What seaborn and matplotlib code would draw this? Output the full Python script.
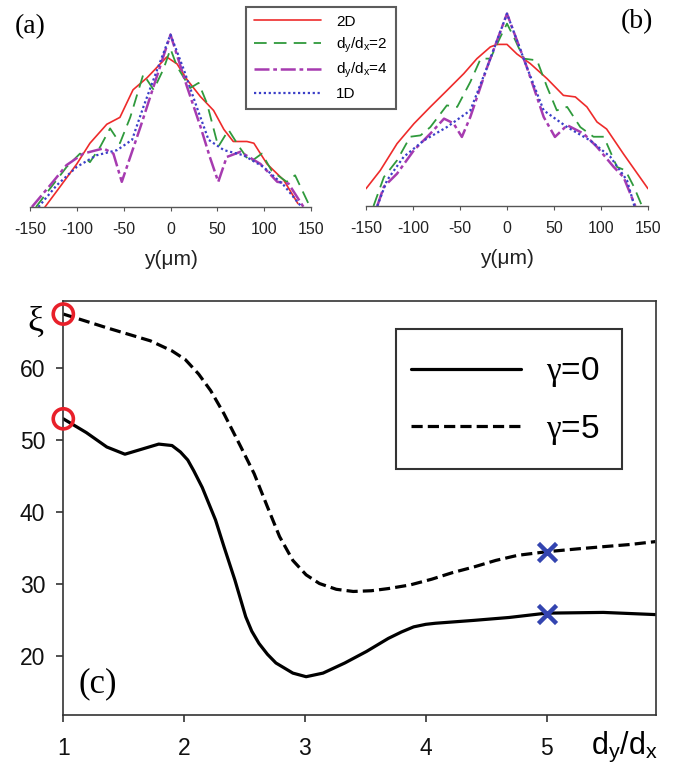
import numpy as np
import pandas as pd
import matplotlib
matplotlib.use("Agg")
import matplotlib.pyplot as plt
from matplotlib.patches import Rectangle
import seaborn as sns

sns.set_theme(style="white")
plt.rcParams['font.family'] = ['Liberation Sans', 'DejaVu Sans']
plt.rcParams['mathtext.fontset'] = 'custom'
plt.rcParams['mathtext.rm'] = 'Liberation Serif'
plt.rcParams['mathtext.it'] = 'Liberation Serif:italic'
plt.rcParams['mathtext.sf'] = 'Liberation Sans'
plt.rcParams['text.color'] = 'black'

# ---------------- panel (a) data ----------------
a_2d_x = [-134, -118, -100, -86, -68, -54, -40, -25, -11, -4, 7, 17.5, 32, 46, 57, 67, 81.6, 89, 103, 121, 136]
a_2d_y = [0, 0.117, 0.25, 0.37, 0.48, 0.52, 0.68, 0.75, 0.83, 0.87, 0.83, 0.74, 0.64, 0.56, 0.45, 0.38, 0.38, 0.37, 0.25, 0.155, 0.02]
a_d2_x = [-143.6, -128.6, -110.8, -96.6, -86, -75, -64.5, -54, -43, -29, -18, -7.5, 0, 7, 21, 30, 39, 51, 62, 74.5, 85, 97.6, 108, 124, 133, 149]
a_d2_y = [0, 0.107, 0.233, 0.31, 0.26, 0.35, 0.456, 0.37, 0.52, 0.77, 0.68, 0.80, 0.917, 0.815, 0.69, 0.72, 0.60, 0.35, 0.447, 0.34, 0.26, 0.31, 0.21, 0.146, 0.184, 0]
a_d4_x = [-148, -127, -111, -93, -71.6, -61, -52, -43, -32, -18, 0, 17.5, 32, 42, 51, 60, 74.5, 96, 114, 126, 142]
a_d4_y = [0, 0.136, 0.243, 0.31, 0.34, 0.31, 0.146, 0.29, 0.466, 0.70, 1.0, 0.70, 0.466, 0.29, 0.146, 0.29, 0.32, 0.25, 0.146, 0.136, 0]
a_1d_x = [-141, -121.5, -100, -79, -57, -41, -29, -14, 0, 14, 28, 40.6, 57, 78, 99, 121, 140]
a_1d_y = [0, 0.126, 0.233, 0.30, 0.33, 0.39, 0.58, 0.80, 1.0, 0.80, 0.58, 0.39, 0.33, 0.30, 0.233, 0.126, 0]

# ---------------- panel (b) data ----------------
b_2d_x = [-150, -134.8, -117, -99, -81.6, -64, -46, -32, -17.7, -10.6, 0, 10.6, 24.8, 42.6, 60, 72.7, 85, 95.7, 106, 124, 150]
b_2d_y = [0.09, 0.185, 0.324, 0.428, 0.515, 0.60, 0.688, 0.766, 0.827, 0.84, 0.84, 0.79, 0.74, 0.662, 0.575, 0.567, 0.515, 0.437, 0.40, 0.27, 0.09]
b_d2_x = [-142, -131, -117, -103, -92, -81.6, -64, -53, -39, -28, -17.7, -7, 0, 9, 17.7, 32, 42.5, 53, 64, 78, 92, 103, 117, 126, 135, 143.6]
b_d2_y = [0, 0.15, 0.237, 0.36, 0.367, 0.41, 0.523, 0.515, 0.645, 0.766, 0.766, 0.879, 0.948, 0.86, 0.766, 0.757, 0.62, 0.497, 0.515, 0.41, 0.36, 0.36, 0.203, 0.185, 0.1, 0]
b_d4_x = [-138, -131, -117, -99, -81.6, -67, -57, -48, -39, -21, 0, 21, 39, 51, 64, 81.6, 95.7, 113.5, 124, 136.5]
b_d4_y = [0, 0.1, 0.168, 0.29, 0.376, 0.454, 0.43, 0.359, 0.463, 0.723, 1.0, 0.723, 0.463, 0.359, 0.42, 0.376, 0.307, 0.203, 0.15, 0]
b_1d_x = [-138, -127.7, -110, -88.7, -64, -39, -21, 0, 21, 39, 64, 88.7, 110, 127.7, 135.5]
b_1d_y = [0, 0.133, 0.255, 0.34, 0.41, 0.497, 0.723, 1.0, 0.723, 0.497, 0.41, 0.34, 0.255, 0.133, 0]

top_xticks = [-150, -100, -50, 0, 50, 100, 150]
series_labels = ['2D', r'd$_\mathsf{y}$/d$_\mathsf{x}$=2', r'd$_\mathsf{y}$/d$_\mathsf{x}$=4', '1D']

# ---------------- panel (c) data ----------------
g0_x = [1.0, 1.19, 1.36, 1.51, 1.65, 1.79, 1.9, 1.97, 2.03, 2.08, 2.15, 2.26, 2.33, 2.42, 2.51, 2.56, 2.62, 2.69, 2.76, 2.9, 3.01, 3.15, 3.33, 3.51, 3.69, 3.8, 3.9, 4.0, 4.08, 4.4, 4.69, 5.0, 5.47, 5.9]
g0_y = [52.9, 51.0, 49.0, 48.0, 48.7, 49.4, 49.2, 48.3, 47.2, 45.7, 43.4, 38.9, 35.2, 30.6, 25.5, 23.5, 21.8, 20.3, 19.1, 17.7, 17.2, 17.7, 19.1, 20.7, 22.5, 23.4, 24.1, 24.45, 24.6, 25.0, 25.4, 26.0, 26.1, 25.8]
g5_x = [1.0, 1.19, 1.36, 1.54, 1.72, 1.9, 2.01, 2.12, 2.22, 2.33, 2.47, 2.58, 2.69, 2.79, 2.9, 3.01, 3.12, 3.26, 3.4, 3.55, 3.69, 3.87, 4.05, 4.22, 4.4, 4.58, 4.76, 5.0, 5.26, 5.47, 5.69, 5.9]
g5_y = [67.4, 66.4, 65.5, 64.6, 63.7, 62.3, 61.1, 59.1, 56.8, 53.6, 49.0, 45.3, 40.7, 36.6, 33.3, 31.3, 30.1, 29.3, 29.0, 29.1, 29.4, 29.9, 30.7, 31.6, 32.4, 33.3, 34.0, 34.5, 34.9, 35.2, 35.5, 35.9]
circle_x = [1, 1]
circle_y = [52.9, 67.4]
cross_x = [5, 5]
cross_y = [25.9, 34.5]
c_xticks = [1, 2, 3, 4, 5]
c_yticks = [20, 30, 40, 50, 60]
gamma_labels = [r'$\mathrm{\gamma}$=0', r'$\mathrm{\gamma}$=5']

W, H = 677, 768
fig = plt.figure(figsize=(W / 100, H / 100), dpi=100)

def px_axes(x0, y0, x1, y1):
    return fig.add_axes([x0 / W, 1 - y1 / H, (x1 - x0) / W, (y1 - y0) / H])

styles = [
    dict(color='#ee2b2b', linestyle='-', linewidth=1.2),
    dict(color='#2f9a3c', linestyle=(0, (7, 4)), linewidth=1.3),
    dict(color='#a63bb0', linestyle=(0, (6, 1.5, 1.5, 1.5)), linewidth=1.8),
    dict(color='#3b3fc8', linestyle=(0, (1, 1.2)), linewidth=1.6),
]

def top_panel(ax, data):
    for (xs, ys), st, lab in zip(data, styles, series_labels):
        df = pd.DataFrame({'y_um': xs, 'I': ys})
        sns.lineplot(data=df, x='y_um', y='I', ax=ax, sort=False, estimator=None,
                     label=lab, **st)
    ax.set_xlim(-150, 150)
    ax.set_ylim(0, 1.05)
    for s in ['left', 'right', 'top']:
        ax.spines[s].set_visible(False)
    ax.spines['bottom'].set_color('#555555')
    ax.spines['bottom'].set_linewidth(1.0)
    ax.set_xticks(top_xticks)
    ax.set_xticklabels([str(t) for t in top_xticks])
    ax.set_yticks([])
    ax.tick_params(axis='x', direction='out', length=3, width=0.8, color='#555555',
                   labelsize=11.5, pad=8, bottom=True, labelcolor='#222222')
    ax.set_xlabel('y(μm)', fontsize=15, labelpad=9, color='#222222')
    ax.set_ylabel('')
    ax.patch.set_alpha(0)
    leg = ax.get_legend()
    if leg is not None:
        leg.remove()

ax_a = px_axes(30, 26, 311, 207)
top_panel(ax_a, [(a_2d_x, a_2d_y), (a_d2_x, a_d2_y), (a_d4_x, a_d4_y), (a_1d_x, a_1d_y)])
ax_b = px_axes(366, 4, 648, 206)
top_panel(ax_b, [(b_2d_x, b_2d_y), (b_d2_x, b_d2_y), (b_d4_x, b_d4_y), (b_1d_x, b_1d_y)])

fig.text(30 / W, 1 - 27 / H, '(a)', family='Liberation Serif', fontsize=20, ha='center', va='center')
fig.text(637 / W, 1 - 22 / H, '(b)', family='Liberation Serif', fontsize=20, ha='center', va='center')

handles, labels = ax_a.get_legend_handles_labels()
leg = fig.legend(handles, labels, loc='upper left', bbox_to_anchor=(246 / W, 1 - 7 / H),
                 fontsize=11, handlelength=4.4, handletextpad=1.0, labelspacing=0.45,
                 borderpad=0.5, frameon=True, fancybox=False, borderaxespad=0)
leg.get_frame().set_edgecolor('#333333')
leg.get_frame().set_linewidth(1.5)

# ---------------- panel (c) ----------------
ax_c = px_axes(63.3, 300.7, 656, 715)
df0 = pd.DataFrame({'r': g0_x, 'xi': g0_y})
df5 = pd.DataFrame({'r': g5_x, 'xi': g5_y})
sns.lineplot(data=df0, x='r', y='xi', ax=ax_c, sort=False, estimator=None, color='black',
             linewidth=2.3, label=gamma_labels[0])
sns.lineplot(data=df5, x='r', y='xi', ax=ax_c, sort=False, estimator=None, color='black',
             linewidth=2.3, linestyle=(0, (3.5, 1.6)), label=gamma_labels[1])
sns.scatterplot(x=circle_x, y=circle_y, ax=ax_c, marker='o', s=210, facecolors='none',
                edgecolors='#e8202a', linewidths=2.6, zorder=5, clip_on=False)
sns.scatterplot(x=cross_x, y=cross_y, ax=ax_c, marker='x', s=170, color='#3344b0',
                linewidths=3.2, zorder=5)
ax_c.set_xlim(1, 5.906)
ax_c.set_ylim(11.9, 69.25)
ax_c.set_xticks(c_xticks)
ax_c.set_yticks(c_yticks)
ax_c.set_xticklabels([str(t) for t in c_xticks])
ax_c.set_yticklabels([str(t) for t in c_yticks])
ax_c.tick_params(axis='both', direction='out', length=5, width=1.2, color='#333333',
                 labelsize=16.5, left=True, bottom=True, labelcolor='#111111')
ax_c.tick_params(axis='x', pad=11)
ax_c.tick_params(axis='y', pad=8)
for s in ax_c.spines.values():
    s.set_color('#333333')
    s.set_linewidth(1.2)
ax_c.set_xlabel('')
ax_c.set_ylabel('')

# legend frame drawn as a rectangle (figure pixels 396..622 x 329..469)
fig.patches.append(Rectangle((396 / W, 1 - 469 / H), 226 / W, 140 / H, transform=fig.transFigure,
                             fill=False, edgecolor='#333333', linewidth=1.5, zorder=10))
leg_c = ax_c.legend(loc='center', bbox_to_anchor=(505 / W, 1 - 401 / H),
                    bbox_transform=fig.transFigure, fontsize=24,
                    handlelength=3.3, handletextpad=0.75, labelspacing=0.7, borderpad=0.0,
                    frameon=False, borderaxespad=0)

fig.text(35 / W, 1 - 322 / H, 'ξ', family='Liberation Serif', fontsize=26, ha='center', va='center')
fig.text(98 / W, 1 - 684 / H, '(c)', family='Liberation Serif', fontsize=25, ha='center', va='center')
fig.text(624 / W, 1 - 747 / H, r'd$_\mathsf{y}$/d$_\mathsf{x}$', fontsize=22, ha='center', va='center')

fig.savefig('out.png', dpi=100, facecolor='white')
